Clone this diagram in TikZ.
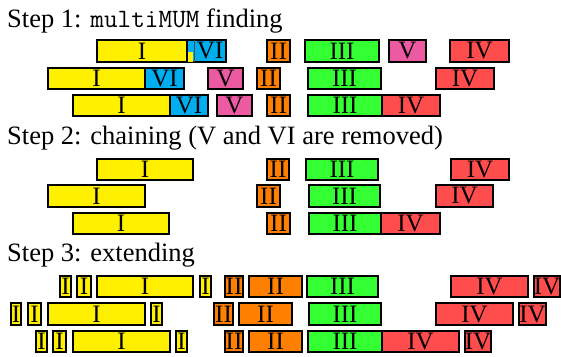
\documentclass[tikz,border=0pt]{standalone}
\usepackage{fontspec}
\setmainfont{Liberation Serif}
\definecolor{cyel}{RGB}{255,240,0}
\definecolor{cblu}{RGB}{0,174,239}
\definecolor{cpnk}{RGB}{236,90,162}
\definecolor{corg}{RGB}{255,128,0}
\definecolor{cgrn}{RGB}{51,255,51}
\definecolor{cred}{RGB}{255,77,77}
\tikzset{
  bx/.style={draw=black, line width=2.2pt, inner sep=0pt, outer sep=0pt,
    minimum height=21.5pt, font=\fontsize{25}{25}\selectfont},
  hdr/.style={anchor=base west, inner sep=0pt, font=\fontsize{26.5}{30}\selectfont}
}
\newcommand\mybox[6]{%
  \pgfmathsetmacro\mywd{#3-#2}%
  \pgfmathsetmacro\myxc{(#2+#3)/2}%
  \node[bx,fill=#5,minimum width=\mywd pt] (#1) at (\myxc,#4) {\raisebox{-1pt}{#6}};}
\begin{document}
\begin{tikzpicture}[x=1pt,y=-1pt]
\useasboundingbox (0,0) rectangle (561,356);
% headers
\node[hdr] (h1) at (7,27) {Step 1: \texttt{multiMUM} finding};
\node[hdr] (h2) at (7,144) {Step 2: chaining (V and VI are removed)};
\node[hdr] (h3) at (7,261) {Step 3: extending};
% Step 1
\mybox{a1i}{97}{187}{51}{cyel}{I}
\mybox{a1vi}{187}{226}{51}{cblu}{\hspace*{7pt}VI}
\fill[cyel] (188.3,52) rectangle (193.4,61.5);
\draw[line width=0.6pt, black!70] (a1vi.north west) ++(7,0) -- ++(0,21.5);
\mybox{a1ii}{267}{290}{51}{corg}{II}
\mybox{a1iii}{305}{379}{51}{cgrn}{III}
\mybox{a1v}{389}{426}{51}{cpnk}{V}
\mybox{a1iv}{450}{509}{51}{cred}{IV}
\mybox{a2i}{48}{145}{78.5}{cyel}{I}
\mybox{a2vi}{145}{184}{78.5}{cblu}{VI}
\mybox{a2v}{208}{243}{78.5}{cpnk}{V}
\mybox{a2ii}{257}{280}{78.5}{corg}{II}
\mybox{a2iii}{308}{381}{78.5}{cgrn}{III}
\mybox{a2iv}{436}{494}{78.5}{cred}{IV}
\mybox{a3i}{73}{170}{105.5}{cyel}{I}
\mybox{a3vi}{170}{208}{105.5}{cblu}{VI}
\mybox{a3v}{217}{252}{105.5}{cpnk}{V}
\mybox{a3ii}{267}{290}{105.5}{corg}{II}
\mybox{a3iii}{308}{382}{105.5}{cgrn}{III}
\mybox{a3iv}{382}{440}{105.5}{cred}{IV}
% Step 2
\mybox{b1i}{97}{193}{169.5}{cyel}{I}
\mybox{b1ii}{267}{289}{169.5}{corg}{II}
\mybox{b1iii}{306}{378}{169.5}{cgrn}{III}
\mybox{b1iv}{451}{509}{169.5}{cred}{IV}
\mybox{b2i}{48}{145}{196}{cyel}{I}
\mybox{b2ii}{257}{280}{196}{corg}{II}
\mybox{b2iii}{309}{380}{196}{cgrn}{III}
\mybox{b2iv}{436}{493}{196}{cred}{IV}
\mybox{b3i}{73}{169}{223.5}{cyel}{I}
\mybox{b3ii}{267}{290}{223.5}{corg}{II}
\mybox{b3iii}{309}{381}{223.5}{cgrn}{III}
\mybox{b3iv}{381}{440}{223.5}{cred}{IV}
% Step 3
\mybox{c1ia}{60}{71}{286.5}{cyel}{I}
\mybox{c1ib}{77}{91}{286.5}{cyel}{I}
\mybox{c1i}{97}{193}{286.5}{cyel}{I}
\mybox{c1ic}{200}{211}{286.5}{cyel}{I}
\mybox{c1iia}{225}{243}{286.5}{corg}{II}
\mybox{c1ii}{249}{302}{286.5}{corg}{II}
\mybox{c1iii}{307}{378}{286.5}{cgrn}{III}
\mybox{c1iv}{451}{528}{286.5}{cred}{IV}
\mybox{c1iva}{534}{560}{286.5}{cred}{IV}
\mybox{c2ia}{11}{21}{314}{cyel}{I}
\mybox{c2ib}{28}{41}{314}{cyel}{I}
\mybox{c2i}{48}{145}{314}{cyel}{I}
\mybox{c2ic}{151}{162}{314}{cyel}{I}
\mybox{c2iia}{214}{233}{314}{corg}{II}
\mybox{c2ii}{239}{292}{314}{corg}{II}
\mybox{c2iii}{309}{381}{314}{cgrn}{III}
\mybox{c2iv}{436}{513}{314}{cred}{IV}
\mybox{c2iva}{519}{546}{314}{cred}{IV}
\mybox{c3ia}{36}{47}{341.5}{cyel}{I}
\mybox{c3ib}{53}{66}{341.5}{cyel}{I}
\mybox{c3i}{73}{170}{341.5}{cyel}{I}
\mybox{c3ic}{176}{187}{341.5}{cyel}{I}
\mybox{c3iia}{225}{243}{341.5}{corg}{II}
\mybox{c3ii}{249}{302}{341.5}{corg}{II}
\mybox{c3iii}{308}{382}{341.5}{cgrn}{III}
\mybox{c3iv}{382}{459}{341.5}{cred}{IV}
\mybox{c3iva}{465}{491}{341.5}{cred}{IV}
\end{tikzpicture}
\end{document}
